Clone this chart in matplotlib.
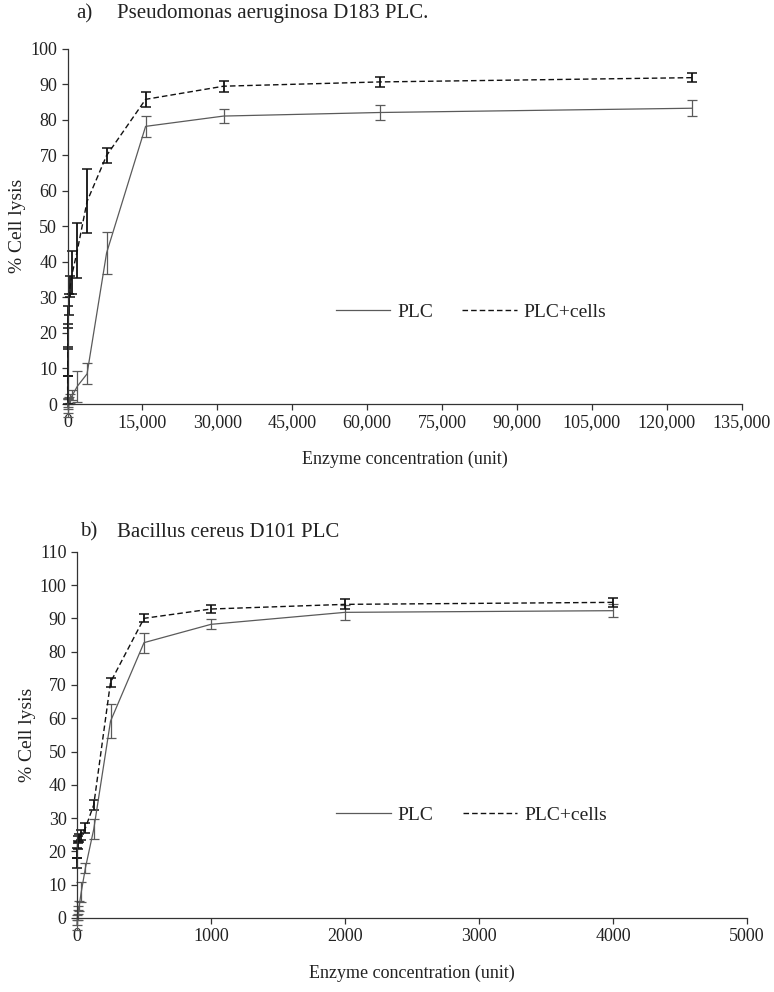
import matplotlib
matplotlib.use("Agg")
import matplotlib.pyplot as plt
from matplotlib.lines import Line2D
from matplotlib.ticker import FuncFormatter

plt.rcParams['font.family'] = ['Liberation Serif', 'DejaVu Serif']
plt.rcParams['font.size'] = 13

# panel a: Pseudomonas aeruginosa D183 PLC (two-fold dilutions)
conc_a = [125000, 62500, 31250, 15625, 7812.5, 3906.25, 1953.1, 976.6,
          488.3, 244.1, 122.1, 61.0, 30.5, 15.3]
plc_a = [83.2, 82.0, 81.0, 78.1, 42.5, 8.5, 5.0, 2.5,
         1.5, 1.0, 0.5, 0.0, -0.5, -1.0]
plc_a_err = [2.3, 2.0, 2.0, 3.0, 6.0, 3.0, 4.3, 1.5,
             1.2, 1.0, 1.2, 1.5, 2.0, 2.7]
cells_a = [91.8, 90.6, 89.4, 85.7, 69.9, 57.0, 43.2, 37.0,
           33.0, 28.0, 24.5, 19.0, 12.0, 4.0]
cells_a_err = [1.3, 1.3, 1.6, 2.1, 2.0, 9.0, 7.8, 6.0,
               3.0, 3.0, 3.0, 3.5, 4.0, 4.0]

# panel b: Bacillus cereus D101 PLC
conc_b = [4000, 2000, 1000, 500, 250, 125, 62.5, 31.25, 15.6, 7.8, 3.9, 1.95, 0.98]
plc_b = [92.3, 91.8, 88.2, 82.7, 59.1, 26.7, 15.0, 7.7, 3.5, 2.5, 1.0, -0.5, -2.0]
plc_b_err = [2.0, 2.2, 1.5, 3.0, 5.1, 3.0, 1.5, 3.0, 1.5, 1.2, 1.5, 1.5, 1.5]
cells_b = [94.8, 94.2, 92.8, 90.0, 70.8, 34.0, 27.0, 25.0, 24.0, 23.5, 22.0, 19.5, 16.5]
cells_b_err = [1.3, 1.5, 1.2, 1.2, 1.4, 1.5, 1.5, 1.5, 1.2, 1.0, 1.2, 1.5, 1.5]

GRAY = '#5a5a5a'
DARK = '#111111'
DASH = (0, (4, 2.2))


def draw(ax, x, plc, plc_err, cells, cells_err, leg_x, leg_y):
    ax.errorbar(x, plc, yerr=plc_err, color=GRAY, lw=0.9, elinewidth=0.9,
                capsize=3.5, capthick=0.9, clip_on=False)
    eb = ax.errorbar(x, cells, yerr=cells_err, color=DARK, lw=1.0,
                     elinewidth=1.3, capsize=3.5, capthick=1.1, clip_on=False)
    eb[0].set_linestyle(DASH)
    for s in ['top', 'right']:
        ax.spines[s].set_visible(False)
    for s in ['left', 'bottom']:
        ax.spines[s].set_color('#333333')
        ax.spines[s].set_linewidth(0.9)
    ax.tick_params(direction='out', length=4, width=0.9, color='#333333',
                   labelcolor='#222222')
    ax.set_xlabel('Enzyme concentration (unit)', labelpad=14, color='#222222')
    ax.set_ylabel('% Cell lysis', labelpad=3, fontsize=14, color='#222222')
    handles = [Line2D([], [], color=GRAY, lw=0.9),
               Line2D([], [], color=DARK, lw=1.0, linestyle=DASH)]
    leg = ax.legend(handles, ['PLC', 'PLC+cells'], loc='center left',
                    bbox_to_anchor=(leg_x, leg_y), ncol=2, frameon=False,
                    handlelength=2.8, handletextpad=0.36, columnspacing=1.5,
                    borderpad=0, borderaxespad=0, fontsize=14)
    for t in leg.get_texts():
        t.set_color('#222222')


fig = plt.figure(figsize=(7.74, 9.92), dpi=100)

ax1 = fig.add_axes([0.0873, 0.5927, 0.871, 0.3584])
draw(ax1, conc_a, plc_a, plc_a_err, cells_a, cells_a_err, 0.398, 0.259)
ax1.set_xlim(0, 135000)
ax1.set_ylim(0, 100)
ax1.set_xticks(range(0, 135001, 15000))
ax1.xaxis.set_major_formatter(FuncFormatter(lambda v, p: f'{int(v):,}'))
ax1.set_yticks(range(0, 101, 10))
fig.text(0.099, 0.986, 'a)', ha='left', va='center', fontsize=15, color='#222222')
fig.text(0.151, 0.986, 'Pseudomonas aeruginosa D183 PLC.', ha='left',
         va='center', fontsize=15, color='#222222')

ax2 = fig.add_axes([0.0995, 0.0746, 0.8656, 0.3692])
draw(ax2, conc_b, plc_b, plc_b_err, cells_b, cells_b_err, 0.387, 0.281)
ax2.set_xlim(0, 5000)
ax2.set_ylim(0, 110)
ax2.set_xticks(range(0, 5001, 1000))
ax2.set_yticks(range(0, 111, 10))
fig.text(0.103, 0.4637, 'b)', ha='left', va='center', fontsize=15, color='#222222')
fig.text(0.151, 0.4637, 'Bacillus cereus D101 PLC', ha='left',
         va='center', fontsize=15, color='#222222')

fig.savefig('out.png', dpi=100)
